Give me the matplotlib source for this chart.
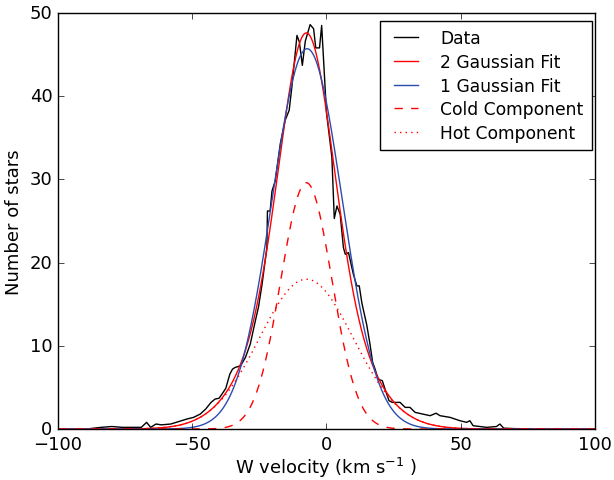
import numpy as np
import matplotlib
matplotlib.use('Agg')
import matplotlib.pyplot as plt

plt.style.use('classic')
plt.rcParams['font.family'] = ['DejaVu Sans']
plt.rcParams['mathtext.fontset'] = 'dejavusans'
plt.rcParams['mathtext.default'] = 'regular'

# Data: binned W velocity counts
vel = [-88, -84, -80, -76, -72, -69, -67, -65.5, -63.5, -61.5, -58, -55, -52,
       -49.5, -47, -45, -43, -41.5, -40, -38.5, -37.5, -36, -35, -34, -32,
       -30.2, -28.4, -26.5, -25.3, -24, -22.2, -22.0, -21, -20.3, -19.1, -17.2,
       -15.4, -13.9, -12.9, -11, -10.1, -9, -7.9, -6.1, -4.8, -4.0, -2.6, -1.8,
       0.0, 2.0, 2.9, 3.9, 5.1, 6.3, 7.0, 8.2, 10.0, 11.3, 12.2, 13.2, 15.0,
       16.2, 17.2, 18.1, 19.2, 20.8, 22.0, 23.3, 24.5, 27.4, 29.3, 31.1, 33.0,
       38.6, 40.8, 42.3, 46, 49.7, 52.2, 53.4, 54.6, 59.6, 63.3, 64.6, 66, 70, 76]
counts = [0.05, 0.2, 0.3, 0.2, 0.2, 0.2, 0.8, 0.2, 0.6, 0.5, 0.6, 0.9, 1.2,
          1.4, 1.8, 2.4, 3.2, 3.6, 3.7, 4.4, 4.9, 6.6, 7.2, 7.4, 7.6,
          8.6, 10.2, 13.0, 14.7, 17.4, 21.8, 26.2, 26.2, 28.6, 29.8, 34.3,
          37.1, 38.3, 41.1, 47.3, 46.5, 43.7, 46.6, 48.6, 48.1, 45.8, 45.8, 48.5,
          38.0, 32.7, 25.3, 26.8, 25.8, 21.8, 21.0, 21.2, 18.6, 17.2, 17.2, 15.1, 12.5,
          10.2, 8.0, 7.2, 6.0, 5.8, 4.6, 3.4, 3.2, 3.2, 2.6, 2.6, 2.0,
          1.6, 1.9, 1.6, 1.4, 1.0, 0.8, 1.0, 0.4, 0.2, 0.3, 0.6, 0.1, 0.05, 0.02]

# Fit parameters: amplitude, mean, sigma
cold = [29.6, -7.5, 9.5]
hot = [18.0, -7.5, 17.5]
single = [45.7, -7.2, 13.0]


def gauss(x, p):
    return p[0] * np.exp(-(x - p[1]) ** 2 / (2 * p[2] ** 2))


x = np.linspace(-100, 100, 801)

fig = plt.figure(figsize=(6.14, 4.81), dpi=100, facecolor='white')
ax = fig.add_axes([0.0945, 0.106, 0.8745, 0.865])

ax.plot(vel, counts, 'k-', lw=1, label='Data')
ax.plot(x, gauss(x, cold) + gauss(x, hot), 'r-', lw=1, label='2 Gaussian Fit')
ax.plot(x, gauss(x, single), '-', color='#2c4bb0', lw=1, label='1 Gaussian Fit')
ax.plot(x, gauss(x, cold), 'r--', lw=1, label='Cold Component')
ax.plot(x, gauss(x, hot), 'r:', lw=1, label='Hot Component')

ax.set_xlim(-100, 100)
ax.set_ylim(0, 50)
ax.set_xlabel('W velocity (km s$^{-1}$ )', fontsize=13, labelpad=2)
ax.set_ylabel('Number of stars', fontsize=13)
ax.tick_params(labelsize=13)
ax.legend(loc='upper right', bbox_to_anchor=(0.994, 0.981), borderaxespad=0,
          fontsize=12.3, handlelength=2.0, handletextpad=1.0,
          labelspacing=0.33, borderpad=0.5)

plt.savefig('out.png', dpi=100, facecolor='white')
